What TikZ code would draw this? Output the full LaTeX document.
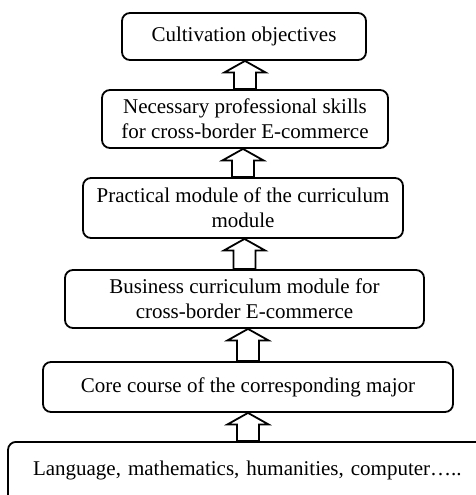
\documentclass[tikz,border=0pt]{standalone}
\usepackage{fontspec}
\setmainfont{Liberation Serif}
\usepackage{tikz}
\usetikzlibrary{calc}

\begin{document}
\begin{tikzpicture}[x=0.5pt,y=-0.5pt]
            \tikzstyle{modbox}=[draw, rounded corners=4pt, line width=0.9pt, align=center, font=\fontsize{10.5}{12.5}\selectfont, inner sep=2pt];
            \tikzstyle{hollow}=[draw, line width=0.9pt, fill=white];
            % Fix the page to the size of the figure
            \clip (0,0) rectangle (476,495);

            % Draw the stack of course modules, top to bottom
            \node[modbox, minimum width=122pt, minimum height=23.5pt] (goal) at (244,36.5) {Cultivation objectives};
            \node[modbox, minimum width=143pt, minimum height=29pt] (skills) at (245,119) {Necessary professional skills\\for cross-border E-commerce};
            \node[modbox, minimum width=160pt, minimum height=30pt] (practice) at (243,208) {Practical module of the curriculum\\module};
            \node[modbox, minimum width=179.5pt, minimum height=29pt] (business) at (244.5,299) {Business curriculum module for\\cross-border E-commerce};
            \node[modbox, minimum width=205pt, minimum height=25pt] (core) at (248,387) {Core course of the corresponding major};

            % Base module runs off the page at the bottom
            \node[modbox, anchor=north, align=left, text width=215pt, inner xsep=12.5pt, inner ysep=4pt, text height=13pt, text depth=20pt] (base) at (248,441) {Language, mathematics, humanities, computer…..};

            % Draw the hollow arrows pointing upward
            \foreach \lo/\hi in {skills/goal, practice/skills, business/practice, core/business, base/core}
                \draw[hollow] let \p1=(\lo.north), \p2=(\hi.south) in
                    (\x1-5.5pt,\y1) -- (\x1-5.5pt,\y2-5.75pt) -- (\x1-10.25pt,\y2-5.75pt) -- (\x1,\y2)
                    -- (\x1+10.25pt,\y2-5.75pt) -- (\x1+5.5pt,\y2-5.75pt) -- (\x1+5.5pt,\y1) -- cycle;
        \end{tikzpicture}
\end{document}
